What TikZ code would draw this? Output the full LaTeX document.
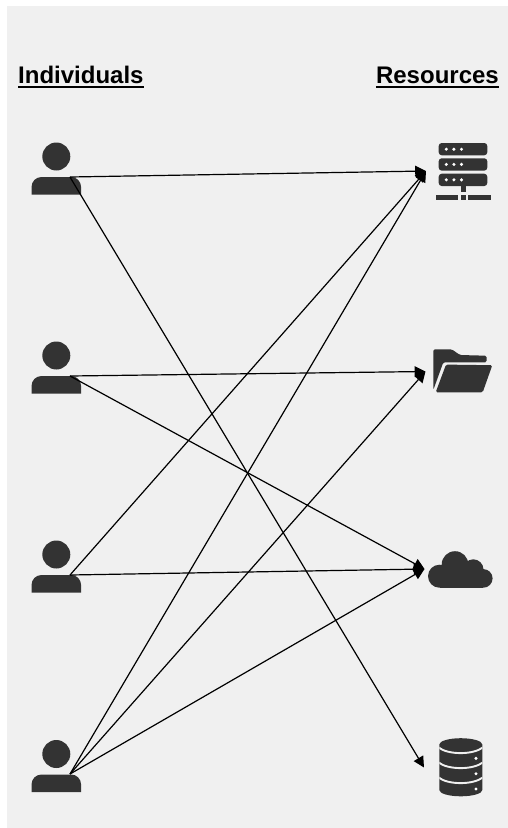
\documentclass[tikz,border=0pt]{standalone}
\usepackage{fontspec}
\setmainfont{Liberation Sans}
\usetikzlibrary{arrows.meta}
\definecolor{panel}{HTML}{F0F0F0}
\definecolor{icon}{HTML}{333333}
\tikzset{
  x=1pt,y=-1pt,
  head/.style={font=\bfseries\fontsize{24}{28}\selectfont,inner sep=0pt,text=black},
  rule/.style={line width=2pt,black},
  link/.style={-{Triangle[length=10.8pt,width=10.8pt]},line width=1.2pt,black},
  person/.pic={
    \fill[icon] (0,-20.5) circle[radius=14];
    \fill[icon] (-24.8,17.5) -- (-24.8,10) arc[start angle=180,end angle=270,radius=10] -- (14.8,0) arc[start angle=-90,end angle=0,radius=10] -- (24.8,17.5) -- cycle;
  }
}
\begin{document}
\begin{tikzpicture}
\useasboundingbox (0,0) rectangle (508,828);
\fill[white] (0,0) rectangle (508,828);
\fill[panel] (7,6) rectangle (508,828);
% headings
\node[head,anchor=base west] (ind) at (18,83.3) {Individuals};
\node[head,anchor=base east] (res) at (499,83.3) {Resources};
\draw[rule] ([yshift=-4pt]ind.base west) -- ([yshift=-4pt]ind.base east);
\draw[rule] ([yshift=-4pt]res.base west) -- ([yshift=-4pt]res.base east);
% people
\pic at (56.3,177) {person};
\pic at (56.3,376) {person};
\pic at (56.3,575) {person};
\pic at (56.3,774.5) {person};
% server
\fill[icon,rounded corners=3pt] (438.7,143) rectangle (487.3,155.3);
\fill[icon,rounded corners=3pt] (438.7,158.3) rectangle (487.3,170.6);
\fill[icon,rounded corners=3pt] (438.7,173.7) rectangle (487.3,186);
\foreach \yy in {149.2,164.4,179.8}\foreach \xx in {446.3,453.9,461.5}
  \fill[white] (\xx,\yy) circle[radius=1.7];
\fill[icon] (461,185) rectangle (466,192);
\fill[icon] (435.7,195) rectangle (458,199.7);
\fill[icon] (461,195) rectangle (466,199.7);
\fill[icon] (468.3,195) rectangle (490.7,199.7);
% folder
\fill[icon,rounded corners=1.5pt] (433.3,390) -- (433.3,349.3) -- (451.7,349.3) -- (460,355) -- (486.5,355.7) -- (486.7,362.3) -- (443.3,362.3) -- cycle;
\fill[icon,rounded corners=1.5pt] (446,364.6) -- (492.3,365.2) -- (482.7,392.3) -- (435.7,392.3) -- cycle;
% cloud
\fill[icon] (439.5,576.2) circle[radius=11.5];
\fill[icon] (455,564.5) circle[radius=13.3];
\fill[icon] (473.3,569.5) circle[radius=10.2];
\fill[icon] (483.3,578.4) circle[radius=9.3];
\fill[icon] (439.5,570) rectangle (483.3,587.7);
% database
\fill[icon] (439.3,744.5) -- (439.3,790) arc[start angle=180,end angle=0,x radius=21.5,y radius=6.3] -- (482.3,744.5) arc[start angle=0,end angle=-180,x radius=21.5,y radius=6.3] -- cycle;
\begin{scope}
\clip (439.3,730) rectangle (482.3,800);
\foreach \yy in {747.4,762.4,777.4}
  \draw[panel,line width=1.9pt] (438.5,\yy) .. controls (448,\yy+7.6) and (473,\yy+7.6) .. (483,\yy);
\end{scope}
\foreach \yy in {758.3,773.7,789}
  \fill[white] (476,\yy) circle[radius=1.7];
% connector anchors
\coordinate (p1) at (70,177);
\coordinate (p2) at (70,376);
\coordinate (p3) at (70,575);
\coordinate (p4) at (70,774);
\coordinate (server) at (426,171);
\coordinate (folder) at (425.5,371.5);
\coordinate (cloud) at (424.5,569);
\coordinate (store) at (424,767.5);
\draw[link] (p1) -- (server);
\draw[link] (p1) -- (store);
\draw[link] (p2) -- (folder);
\draw[link] (p2) -- (cloud);
\draw[link] (p3) -- (server);
\draw[link] (p3) -- (cloud);
\draw[link] (p4) -- (server);
\draw[link] (p4) -- (folder);
\draw[link] (p4) -- (cloud);
\end{tikzpicture}
\end{document}
